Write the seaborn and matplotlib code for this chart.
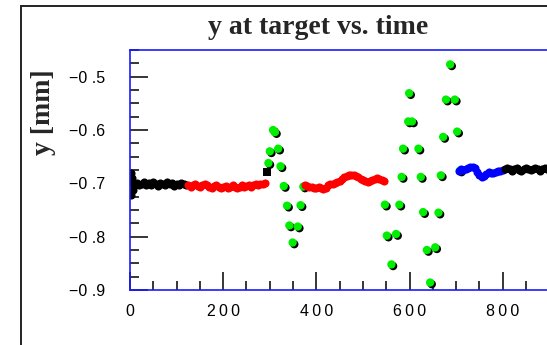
import matplotlib
matplotlib.use("Agg")
import matplotlib.pyplot as plt
import matplotlib.patheffects as pe
from matplotlib.patches import Rectangle
from matplotlib.ticker import MultipleLocator, FuncFormatter
import seaborn as sns

# ---- beam position at target, y [mm] vs. time ----
black_a_t = [0, 2, 3, 4, 6, 10, 15, 20, 25, 30, 35, 40, 45, 50, 55, 60, 65, 70,
             75, 80, 85, 90, 95, 100, 105, 110, 115, 120]
black_a_y = [-0.700, -0.680, -0.722, -0.690, -0.712, -0.703, -0.699, -0.704,
             -0.701, -0.697, -0.703, -0.700, -0.704, -0.698, -0.702, -0.705,
             -0.699, -0.701, -0.704, -0.698, -0.702, -0.700, -0.705, -0.701,
             -0.703, -0.699, -0.702, -0.704]

red_a_t = [125, 130, 135, 140, 145, 150, 155, 160, 165, 170, 175, 180, 185, 190,
           195, 200, 205, 210, 215, 220, 225, 230, 235, 240, 245, 250, 255, 260,
           265, 270, 275, 280, 285, 290]
red_a_y = [-0.704, -0.706, -0.703, -0.702, -0.705, -0.707, -0.704, -0.701,
           -0.703, -0.706, -0.708, -0.705, -0.703, -0.706, -0.709, -0.707,
           -0.705, -0.708, -0.706, -0.704, -0.707, -0.709, -0.706, -0.704,
           -0.707, -0.705, -0.703, -0.706, -0.704, -0.702, -0.704, -0.701,
           -0.702, -0.700]

lone_t = [295]
lone_y = [-0.679]

green_a_t = [297, 300, 307, 311, 318, 323, 330, 337, 342, 349, 360, 366, 372]
green_a_y = [-0.662, -0.640, -0.600, -0.604, -0.635, -0.668, -0.705, -0.742,
             -0.779, -0.811, -0.781, -0.741, -0.706]

red_b_t = [375, 380, 385, 390, 395, 400, 405, 410, 415, 420, 425, 430, 435, 440,
           445, 450, 455, 460, 465, 470, 475, 480, 485, 490, 495, 500, 505, 510,
           515, 520, 525, 530, 535, 540, 545]
red_b_y = [-0.703, -0.705, -0.707, -0.706, -0.708, -0.709, -0.707, -0.709,
           -0.710, -0.708, -0.704, -0.702, -0.701, -0.699, -0.697, -0.695,
           -0.692, -0.689, -0.687, -0.685, -0.684, -0.685, -0.686, -0.688,
           -0.691, -0.694, -0.696, -0.697, -0.695, -0.693, -0.692, -0.690,
           -0.691, -0.693, -0.695]

green_b_t = [547, 551, 561, 571, 578, 583, 586, 597, 599, 605, 619, 624, 629, 637,
             644, 655, 662, 667, 672, 678, 687, 697, 702, 708]
green_b_y = [-0.740, -0.798, -0.852, -0.795, -0.740, -0.688, -0.635, -0.584,
             -0.531, -0.584, -0.635, -0.688, -0.754, -0.825, -0.886, -0.820,
             -0.755, -0.685, -0.613, -0.543, -0.477, -0.543, -0.603, -0.676]

blue_t = [705, 710, 715, 720, 725, 730, 735, 740, 745, 750, 755, 760, 765, 770,
          775, 780, 785, 790, 795, 800]
blue_y = [-0.676, -0.674, -0.675, -0.673, -0.671, -0.670, -0.669, -0.672,
          -0.678, -0.684, -0.689, -0.686, -0.682, -0.679, -0.680, -0.681,
          -0.679, -0.677, -0.676, -0.675]

black_b_t = [805, 810, 815, 820, 825, 830, 835, 840, 845, 850, 855, 860, 865, 870,
             875, 880, 885, 890, 895, 900, 905, 910, 915, 920, 925, 930, 935, 940,
             945, 950]
black_b_y = [-0.674, -0.671, -0.673, -0.676, -0.674, -0.672, -0.675, -0.677,
             -0.674, -0.672, -0.673, -0.675, -0.673, -0.671, -0.674, -0.676,
             -0.673, -0.672, -0.674, -0.675, -0.673, -0.671, -0.674, -0.676,
             -0.674, -0.672, -0.673, -0.675, -0.674, -0.672]

x_major = [0, 200, 400, 600, 800]
y_major = [-0.9, -0.8, -0.7, -0.6, -0.5]

sns.set_style("white")
plt.rcParams["font.family"] = ["Liberation Sans", "DejaVu Sans"]

W, H = 547, 345
fig = plt.figure(figsize=(W / 100, H / 100), dpi=100)
fig.patch.set_facecolor("white")

# outer frame of the panel
fig.patches.append(Rectangle((21 / W, -0.5), 2.0, 1 - 6 / H + 0.5,
                             transform=fig.transFigure, fill=False,
                             edgecolor="#222222", linewidth=1.4, zorder=0))

ax = fig.add_axes([130 / W, 55 / H, 466 / W, 240 / H])
ax.set_facecolor("white")

band_s = 34
green_s = 36
shadow = [pe.SimplePatchShadow(offset=(1.2, -1.2), shadow_rgbFace="black",
                               alpha=1.0), pe.Normal()]

sns.scatterplot(x=black_a_t, y=black_a_y, color="black", s=band_s,
                linewidth=0, ax=ax)
sns.scatterplot(x=red_a_t, y=red_a_y, color="#ff0000", s=band_s,
                linewidth=0, ax=ax)
sns.scatterplot(x=lone_t, y=lone_y, color="black", s=band_s, marker="s",
                linewidth=0, ax=ax)
sns.scatterplot(x=green_a_t, y=green_a_y, color="#00ee00", s=green_s,
                linewidth=0, ax=ax)
ax.collections[-1].set_path_effects(shadow)
sns.scatterplot(x=red_b_t, y=red_b_y, color="#ff0000", s=band_s,
                linewidth=0, ax=ax)
sns.scatterplot(x=green_b_t, y=green_b_y, color="#00ee00", s=green_s,
                linewidth=0, ax=ax)
ax.collections[-1].set_path_effects(shadow)
sns.scatterplot(x=blue_t, y=blue_y, color="#0000ff", s=band_s,
                linewidth=0, ax=ax)
sns.scatterplot(x=black_b_t, y=black_b_y, color="black", s=band_s,
                linewidth=0, ax=ax)

ax.set_xlim(0, 1000)
ax.set_ylim(-0.9, -0.45)
ax.set_xlabel("")
ax.set_ylabel("")

ax.set_xticks(x_major)
ax.set_yticks(y_major)
ax.xaxis.set_minor_locator(MultipleLocator(50))
ax.yaxis.set_minor_locator(MultipleLocator(0.025))
ax.xaxis.set_major_formatter(FuncFormatter(
    lambda v, p: "\u2009".join(str(int(round(v))))))
ax.yaxis.set_major_formatter(FuncFormatter(
    lambda v, p: f"{v:.1f}".replace("-", "\u2212").replace(".", " .")))

ax.tick_params(which="both", direction="in", colors="black", width=1.1,
               bottom=True, left=True, top=False, right=False, labelsize=11.5)
ax.tick_params(which="major", length=13)
ax.tick_params(which="minor", length=6.5)
ax.tick_params(axis="y", which="major", pad=18)
ax.tick_params(axis="x", which="major", pad=10)

for side in ["left", "bottom", "top"]:
    ax.spines[side].set_color("#1a1aff")
    ax.spines[side].set_linewidth(1.2)
ax.spines["right"].set_visible(False)

serif = ["Liberation Serif", "DejaVu Serif"]
fig.text(318 / W, 1 - 28 / H, "y at target vs. time", ha="center",
         va="center", fontsize=20, fontweight="bold", family=serif)
fig.text(44 / W, 1 - 112 / H, "y [mm]", ha="center", va="center",
         rotation=90, fontsize=20, fontweight="bold", family=serif)

fig.savefig("out.png", dpi=100, facecolor="white")
